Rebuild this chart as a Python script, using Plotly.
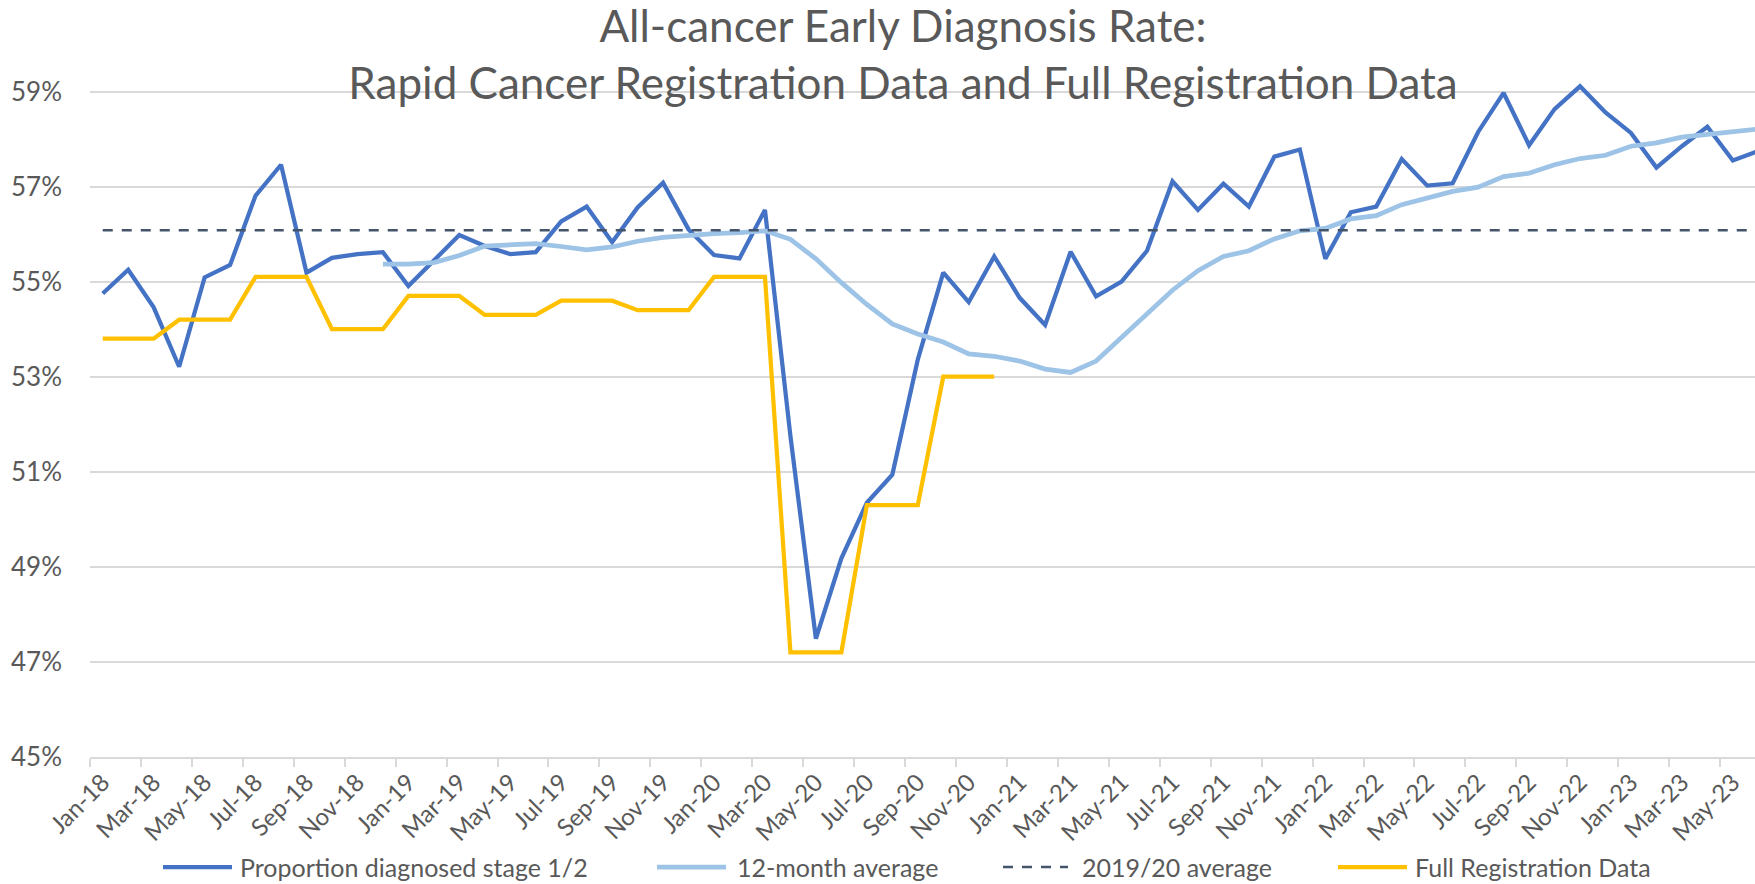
import pandas as pd
import plotly.graph_objects as go

# ---------------- data ----------------
months = list(pd.date_range("2018-01-01", periods=66, freq="MS").strftime("%b-%y"))

proportion_stage_12 = [
    54.75, 55.25, 54.46, 53.21, 55.09, 55.35, 56.81, 57.46, 55.19, 55.50, 55.58, 55.62,
    54.91, 55.44, 55.98, 55.75, 55.58, 55.62, 56.27, 56.58, 55.83, 56.56, 57.08, 56.10,
    55.56, 55.49, 56.51, 51.75, 47.49, 49.18, 50.35, 50.94, 53.36, 55.19, 54.57, 55.53,
    54.66, 54.09, 55.63, 54.69, 55.00, 55.65, 57.11, 56.51, 57.06, 56.58, 57.63, 57.78,
    55.48, 56.46, 56.58, 57.58, 57.02, 57.07, 58.15, 58.97, 57.87, 58.63, 59.11, 58.56,
    58.13, 57.40, 57.85, 58.26, 57.55, 57.75,
]

twelve_month_avg = [None] * 11 + [
    55.37,
    55.37, 55.40, 55.55, 55.75, 55.78, 55.80, 55.74, 55.67, 55.73, 55.85, 55.93, 55.98,
    56.01, 56.03, 56.07, 55.89, 55.48, 54.98, 54.52, 54.11, 53.90, 53.73, 53.48, 53.43,
    53.33, 53.16, 53.09, 53.33, 53.83, 54.34, 54.82, 55.23, 55.53, 55.65, 55.90, 56.07,
    56.12, 56.32, 56.39, 56.62, 56.77, 56.90, 56.99, 57.21, 57.28, 57.46, 57.59, 57.66,
    57.85, 57.92, 58.04, 58.10, 58.15, 58.21,
]

avg_2019_20 = 56.08

full_registration = [
    53.8, 53.8, 53.8, 54.2, 54.2, 54.2, 55.1, 55.1, 55.1, 54.0, 54.0, 54.0,
    54.7, 54.7, 54.7, 54.3, 54.3, 54.3, 54.6, 54.6, 54.6, 54.4, 54.4, 54.4,
    55.1, 55.1, 55.1, 47.2, 47.2, 47.2, 50.3, 50.3, 50.3, 53.0, 53.0, 53.0,
]

y_ticks = [45, 47, 49, 51, 53, 55, 57, 59]

series_names = ["Proportion diagnosed stage 1/2", "12-month average",
                "2019/20 average", "Full Registration Data"]

# ---------------- style ----------------
C_BLUE = "#4472C4"
C_LIGHT = "#9DC3E6"
C_DASH = "#44546A"
C_GOLD = "#FFC000"
C_TEXT = "#595959"
C_GRID = "#D9D9D9"
FONT = "Lato"

W, H = 1755, 884
ML, MR, MT, MB = 90, 0, 44, 127

fig = go.Figure()
fig.add_trace(go.Scatter(x=months, y=proportion_stage_12, mode="lines",
                         name=series_names[0], line=dict(color=C_BLUE, width=4.25)))
fig.add_trace(go.Scatter(x=months, y=twelve_month_avg, mode="lines",
                         name=series_names[1], line=dict(color=C_LIGHT, width=4.75)))
fig.add_trace(go.Scatter(x=months, y=[avg_2019_20] * len(months), mode="lines",
                         name=series_names[2],
                         line=dict(color=C_DASH, width=2.5, dash="10px,9px")))
fig.add_trace(go.Scatter(x=months[:len(full_registration)], y=full_registration,
                         mode="lines", name=series_names[3],
                         line=dict(color=C_GOLD, width=4.25)))

fig.update_layout(
    width=W, height=H,
    margin=dict(l=ML, r=MR, t=MT, b=MB),
    paper_bgcolor="white", plot_bgcolor="white",
    showlegend=False,
    font=dict(family=FONT, color=C_TEXT),
    title=dict(
        text="All-cancer Early Diagnosis Rate:<br>Rapid Cancer Registration Data and Full Registration Data",
        font=dict(family=FONT, size=44, color=C_TEXT),
        x=903 / W, xref="container", xanchor="center",
        y=1 - 42 / H, yref="container", yanchor="top",
    ),
)

fig.update_xaxes(
    type="category",
    range=[-0.5, 64.87],
    tickmode="linear", tick0=0, dtick=2,
    tickson="boundaries",
    ticks="outside", ticklen=8, tickwidth=1.5, tickcolor=C_GRID,
    tickangle=-45,
    tickfont=dict(family=FONT, size=24, color=C_TEXT),
    showgrid=False,
    showline=True, linecolor=C_GRID, linewidth=1.5,
    zeroline=False,
)
fig.update_yaxes(
    range=[45, 60],
    tickmode="array", tickvals=y_ticks,
    ticktext=[f"{v}%" for v in y_ticks],
    tickfont=dict(family=FONT, size=26, color=C_TEXT),
    showgrid=True, gridcolor=C_GRID, gridwidth=1.5,
    zeroline=False, showline=False,
    ticks="", ticklabelstandoff=27,
)

# ---------------- legend (drawn manually, Excel style) ----------------
plot_w = W - ML - MR
plot_h = H - MT - MB


def px_to_paper(px, py):
    return (px - ML) / plot_w, (H - MB - py) / plot_h


legend_y = 867
legend_items = [
    (163, 232, 238, dict(color=C_BLUE, width=4.25)),
    (657, 726, 735, dict(color=C_LIGHT, width=4.75)),
    (1003, 1068, 1080, dict(color=C_DASH, width=2.5, dash="10px,9px")),
    (1338, 1407, 1413, dict(color=C_GOLD, width=4.25)),
]
for name, (x0, x1, xt, ln) in zip(series_names, legend_items):
    ax0, ay = px_to_paper(x0, legend_y)
    ax1, _ = px_to_paper(x1, legend_y)
    atx, _ = px_to_paper(xt, legend_y)
    fig.add_shape(type="line", xref="paper", yref="paper",
                  x0=ax0, x1=ax1, y0=ay, y1=ay, line=ln, layer="above")
    fig.add_annotation(xref="paper", yref="paper", x=atx, y=ay,
                       xanchor="left", yanchor="middle", showarrow=False,
                       text=name, font=dict(family=FONT, size=25, color=C_TEXT))

fig.write_html("out.html",
               config={"displayModeBar": False},
               post_script="document.body.style.margin='0';document.body.style.overflow='hidden';")
